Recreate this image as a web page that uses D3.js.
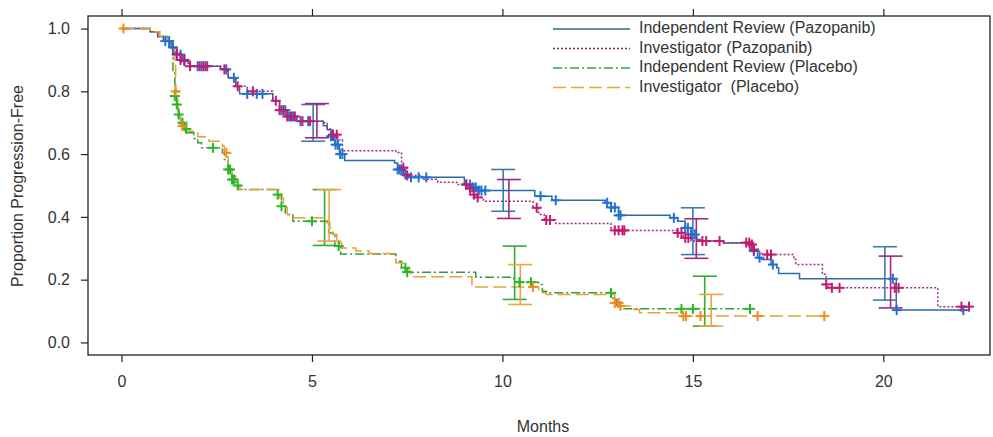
<!DOCTYPE html>
<html><head><meta charset="utf-8">
<script src="https://cdn.jsdelivr.net/npm/d3@7"></script>
<style>
body{margin:0;background:#fff;}
text{font-family:"Liberation Sans",Arial,sans-serif;fill:#333;}
</style></head>
<body><svg id="c" width="993" height="437"></svg>
<script>
// ---------- DATA ----------
const xTicks = [0, 5, 10, 15, 20];
const yTicks = [0.0, 0.2, 0.4, 0.6, 0.8, 1.0];
const seriesNames = ["Independent Review (Pazopanib)", "Investigator (Pazopanib)", "Independent Review (Placebo)", "Investigator  (Placebo)"];

// step times (months) and proportion after each step
const irPazTimes = [0, 0.75, 0.95, 1.1, 1.3, 1.45, 1.6, 1.8, 2.6, 2.8, 3.0, 3.1, 3.97, 4.15, 4.35, 4.6, 5.3, 5.4, 5.5, 5.6, 5.72, 5.86, 7.17, 7.25, 7.4, 7.55, 9.0, 9.2, 9.35, 10.85, 11.3, 12.7, 12.85, 13.05, 14.4, 14.6, 14.8, 14.95, 15.1, 15.2, 15.8, 16.5, 16.7, 16.8, 17.05, 17.2, 17.25, 17.8, 20.34];
const irPazProp  = [1.0, 0.99, 0.975, 0.96, 0.94, 0.917, 0.896, 0.88, 0.87, 0.843, 0.816, 0.792, 0.77, 0.74, 0.72, 0.705, 0.69, 0.678, 0.657, 0.63, 0.60, 0.58, 0.572, 0.551, 0.535, 0.526, 0.503, 0.494, 0.484, 0.466, 0.453, 0.445, 0.43, 0.405, 0.397, 0.386, 0.365, 0.344, 0.328, 0.323, 0.317, 0.291, 0.27, 0.264, 0.248, 0.238, 0.22, 0.203, 0.103];
const irPazEnd = 22.1;

const invPazTimes = [0, 0.75, 0.95, 1.1, 1.25, 1.4, 1.55, 1.75, 2.6, 2.8, 3.0, 3.3, 3.97, 4.15, 4.35, 4.6, 5.3, 5.4, 5.55, 5.68, 5.8, 7.2, 7.35, 7.5, 7.9, 8.3, 8.8, 9.1, 9.2, 9.3, 9.5, 10.8, 10.95, 11.1, 11.4, 12.85, 12.95, 14.6, 14.75, 14.95, 15.8, 16.5, 16.6, 16.75, 16.85, 17.65, 17.7, 18.4, 18.5, 18.55, 21.43];
const invPazProp  = [1.0, 0.99, 0.975, 0.96, 0.94, 0.92, 0.90, 0.88, 0.87, 0.843, 0.816, 0.80, 0.77, 0.74, 0.72, 0.705, 0.70, 0.68, 0.662, 0.646, 0.611, 0.605, 0.557, 0.532, 0.52, 0.51, 0.503, 0.49, 0.471, 0.462, 0.45, 0.429, 0.408, 0.39, 0.379, 0.365, 0.357, 0.349, 0.333, 0.323, 0.318, 0.312, 0.296, 0.283, 0.28, 0.264, 0.248, 0.217, 0.185, 0.174, 0.114];
const invPazEnd = 22.3;

const irPlaTimes = [0, 0.75, 1.0, 1.2, 1.3, 1.35, 1.4, 1.45, 1.5, 1.55, 1.65, 1.75, 1.9, 2.0, 2.1, 2.65, 2.7, 2.8, 2.9, 3.0, 3.1, 4.1, 4.2, 4.3, 4.5, 5.45, 5.6, 5.75, 7.2, 7.35, 7.5, 9.3, 10.3, 10.95, 11.05, 11.15, 12.9, 13.0, 13.1];
const irPlaProp  = [1.0, 0.99, 0.975, 0.96, 0.938, 0.86, 0.785, 0.758, 0.726, 0.70, 0.68, 0.668, 0.65, 0.636, 0.62, 0.604, 0.583, 0.551, 0.519, 0.50, 0.487, 0.471, 0.434, 0.408, 0.386, 0.349, 0.307, 0.282, 0.259, 0.238, 0.224, 0.208, 0.192, 0.185, 0.163, 0.158, 0.137, 0.116, 0.107];
const irPlaEnd = 16.5;

const invPlaTimes = [0, 0.75, 1.0, 1.2, 1.35, 1.38, 1.42, 1.48, 1.55, 1.65, 2.0, 2.3, 2.65, 2.7, 2.8, 2.9, 3.0, 3.1, 4.15, 4.25, 4.35, 4.5, 5.38, 5.47, 5.55, 5.65, 5.78, 6.15, 6.5, 7.2, 7.4, 7.55, 7.6, 9.2, 9.3, 10.95, 11.05, 11.15, 12.95, 13.1, 13.45, 13.6, 14.75];
const invPlaProp  = [1.0, 0.99, 0.975, 0.96, 0.94, 0.90, 0.80, 0.72, 0.69, 0.673, 0.655, 0.641, 0.625, 0.604, 0.56, 0.53, 0.50, 0.487, 0.46, 0.43, 0.408, 0.397, 0.381, 0.365, 0.344, 0.317, 0.301, 0.291, 0.283, 0.254, 0.238, 0.227, 0.209, 0.185, 0.177, 0.169, 0.158, 0.153, 0.126, 0.116, 0.105, 0.095, 0.084];
const invPlaEnd = 18.46;

// censoring times
const irPazCensor = [1.15, 1.25, 1.35, 1.45, 1.55, 1.65, 2.0, 2.1, 2.2, 2.75, 2.95, 3.3, 3.55, 3.7, 4.2, 4.3, 4.4, 4.5, 4.7, 4.9, 5.5, 5.55, 5.62, 5.68, 5.74, 5.8, 7.25, 7.3, 7.35, 7.45, 7.6, 7.8, 8.0, 9.05, 9.15, 9.22, 9.3, 9.38, 9.45, 9.55, 11.0, 11.4, 12.75, 12.85, 12.95, 13.05, 13.1, 14.5, 14.8, 14.87, 14.95, 15.05, 16.6, 16.75, 17.1, 20.25, 20.35, 22.1];
const invPazCensor = [1.45, 1.55, 1.65, 1.8, 2.05, 2.15, 2.25, 2.7, 3.05, 3.45, 4.05, 4.15, 4.25, 4.35, 4.45, 4.55, 4.75, 4.95, 5.55, 5.65, 7.4, 7.5, 9.05, 9.15, 9.25, 9.35, 10.9, 11.15, 11.25, 12.95, 13.05, 13.15, 13.2, 14.6, 14.7, 14.8, 14.88, 15.25, 15.35, 15.7, 16.4, 16.48, 16.55, 16.6, 16.95, 17.05, 18.5, 18.65, 18.85, 20.3, 20.4, 22.05, 22.25];
const irPlaCensor = [1.4, 1.45, 1.5, 1.6, 1.7, 2.4, 2.8, 2.85, 2.9, 2.95, 3.05, 4.1, 4.2, 5.0, 5.7, 7.45, 7.5, 10.45, 10.75, 12.85, 14.7, 15.0, 16.5];
const invPlaCensor = [0.05, 1.42, 1.6, 2.75, 10.8, 12.95, 13.05, 13.1, 14.75, 14.82, 15.2, 16.7, 18.45];

// confidence intervals: [month, lower, upper]
const irPazCI  = [[5.03, 0.641, 0.758], [10.02, 0.418, 0.551], [15.0, 0.28, 0.429], [20.04, 0.135, 0.305]];
const invPazCI = [[5.13, 0.652, 0.761], [10.17, 0.395, 0.519], [15.09, 0.268, 0.394], [20.19, 0.11, 0.275]];
const irPlaCI  = [[5.33, 0.309, 0.487], [10.32, 0.137, 0.307], [15.31, 0.052, 0.211]];
const invPlaCI = [[5.45, 0.323, 0.487], [10.47, 0.121, 0.248], [15.48, 0.052, 0.153]];

// ---------- CHART ----------
const svg = d3.select("#c");
const L = 88, R = 990, T = 16, B = 355;
const x = d3.scaleLinear().domain([-0.88, 22.8]).range([L, R]);
const y = d3.scaleLinear().domain([-0.04, 1.04]).range([B, T]);

const styles = [
  {line:"#2b6ca6", mark:"#1f72d2", ci:"#3b7bb0", dash:null, legendLine:"#2d6a86"},
  {line:"#9b2a86", mark:"#c61a6e", ci:"#a02a7c", dash:"2,2", legendLine:"#8b2a78"},
  {line:"#2f9a3f", mark:"#26b826", ci:"#33aa33", dash:"9,3,2,3", legendLine:"#3aa04a"},
  {line:"#e6a033", mark:"#f28a1c", ci:"#eaa444", dash:"13,5", legendLine:"#e0aa30"}
];
const series = [
  {t:irPazTimes, s:irPazProp, end:irPazEnd, cens:irPazCensor, ci:irPazCI},
  {t:invPazTimes, s:invPazProp, end:invPazEnd, cens:invPazCensor, ci:invPazCI},
  {t:irPlaTimes, s:irPlaProp, end:irPlaEnd, cens:irPlaCensor, ci:irPlaCI},
  {t:invPlaTimes, s:invPlaProp, end:invPlaEnd, cens:invPlaCensor, ci:invPlaCI}
];
function stepVal(sr, tt){ let v = sr.s[0]; for(let i=0;i<sr.t.length;i++){ if(sr.t[i] <= tt) v = sr.s[i]; } return v; }

// box
svg.append("rect").attr("x",L).attr("y",T).attr("width",R-L).attr("height",B-T)
  .attr("fill","none").attr("stroke","#222").attr("stroke-width",1.3);

// axes
const xAxis = d3.axisBottom(x).tickValues(xTicks).tickSize(7).tickPadding(14).tickFormat(d3.format("d"));
const gx = svg.append("g").attr("transform",`translate(0,${B})`).call(xAxis);
gx.select(".domain").remove();
const gxt = svg.append("g").attr("transform",`translate(0,${T})`).call(d3.axisTop(x).tickValues(xTicks).tickSize(7).tickFormat(""));
gxt.select(".domain").remove();
const yAxis = d3.axisLeft(y).tickValues(yTicks).tickSize(7).tickPadding(11).tickFormat(d3.format(".1f"));
const gy = svg.append("g").attr("transform",`translate(${L},0)`).call(yAxis);
gy.select(".domain").remove();
svg.selectAll(".tick line").attr("stroke","#222").attr("stroke-width",1.2);
svg.selectAll(".tick text").style("font-size","16px").attr("fill","#333").style("font-family",'"Liberation Sans",Arial,sans-serif');

svg.append("text").attr("transform","translate(19,186) rotate(-90)").attr("text-anchor","middle")
  .attr("dominant-baseline","middle").style("font-size","16px").text("Proportion Progression-Free");
svg.append("text").attr("x",543).attr("y",428).attr("text-anchor","middle").attr("dominant-baseline","middle")
  .style("font-size","16px").text("Months");

// curves
const line = d3.line().x(d=>x(d[0])).y(d=>y(d[1])).curve(d3.curveStepAfter);
series.forEach((sr,i)=>{
  const pts = sr.t.map((tt,j)=>[tt, sr.s[j]]);
  pts.push([sr.end, sr.s[sr.s.length-1]]);
  svg.append("path").datum(pts).attr("d",line).attr("fill","none")
    .attr("stroke",styles[i].line).attr("stroke-width",1.5)
    .attr("stroke-dasharray",styles[i].dash);
});
// confidence bars
series.forEach((sr,i)=>{
  const g = svg.append("g").attr("stroke",styles[i].ci).attr("stroke-width",1.6).attr("fill","none");
  sr.ci.forEach(c=>{
    const cx = x(c[0]);
    g.append("line").attr("x1",cx).attr("x2",cx).attr("y1",y(c[1])).attr("y2",y(c[2]));
    g.append("line").attr("x1",cx-12).attr("x2",cx+12).attr("y1",y(c[1])).attr("y2",y(c[1]));
    g.append("line").attr("x1",cx-12).attr("x2",cx+12).attr("y1",y(c[2])).attr("y2",y(c[2]));
  });
});
// censor marks
series.forEach((sr,i)=>{
  const g = svg.append("g").attr("stroke",styles[i].mark).attr("stroke-width",2);
  sr.cens.forEach(tt=>{
    const cx = x(tt), cy = y(stepVal(sr, tt));
    g.append("line").attr("x1",cx-5).attr("x2",cx+5).attr("y1",cy).attr("y2",cy);
    g.append("line").attr("x1",cx).attr("x2",cx).attr("y1",cy-5).attr("y2",cy+5);
  });
});

// legend
const lg = svg.append("g");
const rowY = [29, 48.5, 68, 87.5];
seriesNames.forEach((nm,i)=>{
  lg.append("line").attr("x1",553).attr("x2",630).attr("y1",rowY[i]).attr("y2",rowY[i])
    .attr("stroke",styles[i].legendLine).attr("stroke-width",1.5).attr("stroke-dasharray",styles[i].dash);
  lg.append("text").attr("x",639).attr("y",rowY[i]).attr("dominant-baseline","middle")
    .style("font-size","16px").style("white-space","pre").text(nm);
});
</script></body></html>
